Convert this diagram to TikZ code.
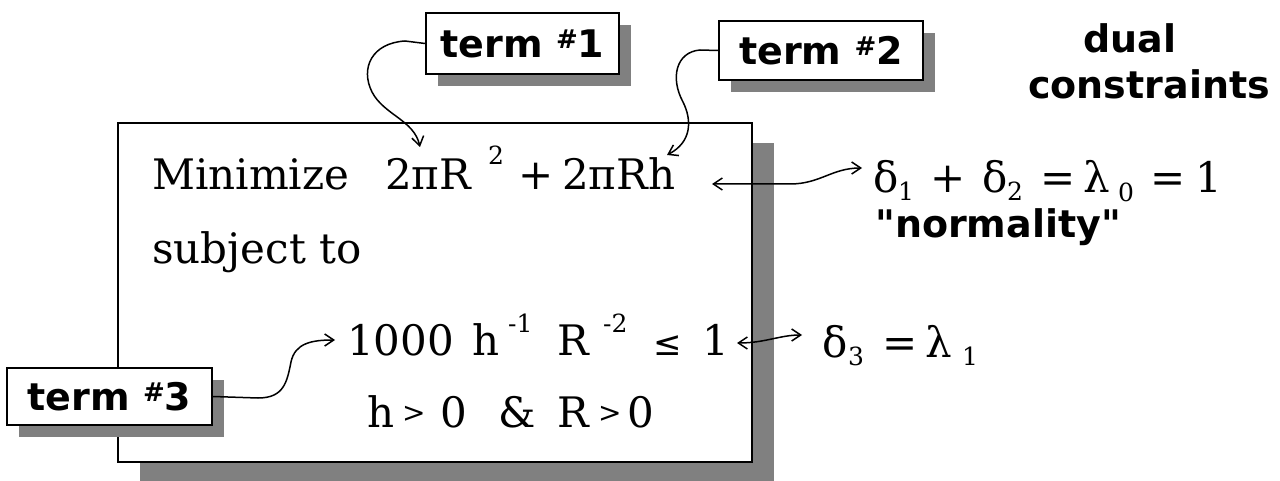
\documentclass[tikz,border=0pt]{standalone}
\usepackage{fontspec}
\usetikzlibrary{arrows.meta,shadows}
\newfontfamily\serifface{DejaVu Serif}
\newfontfamily\labelface{DejaVu Sans}
\newfontfamily\symface{DejaVu Sans}
% small raised number sign used in the term labels
\newcommand\smallhash{{\fontsize{26}{26}\selectfont\raisebox{9pt}{\#}}}

\tikzset{
  boxframe/.style={draw, line width=1.8pt, fill=white, inner sep=0pt},
  shade12/.style={drop shadow={shadow xshift=12pt, shadow yshift=-12pt, fill=black!50, opacity=1}},
  termbox/.style={boxframe, shade12, font=\labelface\bfseries\fontsize{38}{44}\selectfont},
  ser/.style={inner sep=0pt, anchor=base west, font=\serifface\fontsize{42}{48}\selectfont},
  subsup/.style={inner sep=0pt, anchor=base west, font=\serifface\fontsize{25}{30}\selectfont},
  relsym/.style={inner sep=0pt, anchor=base west, font=\symface\fontsize{34}{40}\selectfont},
  smallrel/.style={inner sep=0pt, anchor=base west, font=\serifface\fontsize{28}{32}\selectfont},
  lab/.style={inner sep=0pt, anchor=base west, font=\labelface\bfseries\fontsize{38}{44}\selectfont},
  link/.style={line width=1.5pt, -{Straight Barb[length=9pt,width=12pt]}},
  twoway/.style={line width=1.5pt, {Straight Barb[length=9pt,width=12pt]}-{Straight Barb[length=9pt,width=12pt]}},
}

\begin{document}
\begin{tikzpicture}[x=1pt, y=-1pt]
\useasboundingbox (0,0) rectangle (1280,481);

% problem frame
\node[boxframe, minimum width=634pt, minimum height=339pt,
      drop shadow={shadow xshift=22pt, shadow yshift=-20pt, fill=black!50, opacity=1}]
      (main) at (435,292.5) {};

% term labels
\node[termbox, minimum width=193pt, minimum height=61pt] (t1) at (522.5,43.5) {term \smallhash1};
\node[termbox, minimum width=204pt, minimum height=59pt] (t2) at (821,50.5) {term \smallhash2};
\node[termbox, minimum width=205pt, minimum height=57pt] (t3) at (109.5,396.5) {term \smallhash3};

% objective
\node[ser] (minimize) at (152,190) {Minimize};
\node[ser] (objA) at (385,190) {2πR};
\node[subsup] (objsq) at (488,165) {2};
\node[ser] (plusA) at (518,190) {+};
\node[ser] (objB) at (562,190) {2πRh};
\node[ser] (subj) at (152,263) {subject to};

% constraint
\node[ser] (coef) at (347,355) {1000};
\node[ser] (hvar) at (472,355) {h};
\node[subsup] (hexp) at (508,332) {-1};
\node[ser] (rvar) at (557,355) {R};
\node[subsup] (rexp) at (603,332) {-2};
\node[relsym] (leq) at (653,355) {≤};
\node[ser] (rhs) at (702,355) {1};

% positivity
\node[ser] (hpos) at (367,427) {h};
\node[smallrel] (gtA) at (402,422) {>};
\node[ser] (zeroA) at (440,427) {0};
\node[ser] (amp) at (498,427) {\&};
\node[ser] (rpos) at (557,427) {R};
\node[smallrel] (gtB) at (598,422) {>};
\node[ser] (zeroB) at (627,427) {0};

% dual constraints
\node[lab] (dual) at (1083,53) {dual};
\node[lab] (cons) at (1028,99) {constraints};

\node[ser] (dA) at (873,193) {δ};
\node[subsup] (dAi) at (898,201) {1};
\node[ser] (plusB) at (930,193) {+};
\node[ser] (dB) at (982,193) {δ};
\node[subsup] (dBi) at (1007,201) {2};
\node[ser] (eqA) at (1040,193) {=};
\node[ser] (lA) at (1083,193) {λ};
\node[subsup] (lAi) at (1118,202) {0};
\node[ser] (eqB) at (1150,193) {=};
\node[ser] (oneB) at (1195,193) {1};
\node[lab] (norm) at (875,238) {"normality"};

\node[ser] (dC) at (822,357) {δ};
\node[subsup] (dCi) at (848,365) {3};
\node[ser] (eqC) at (882,357) {=};
\node[ser] (lB) at (925,357) {λ};
\node[subsup] (lBi) at (962,365) {1};

% connector end points
\coordinate (p1) at (420,147);
\coordinate (p2) at (667,155);
\coordinate (p3) at (335,340);
\coordinate (q1) at (712,184);
\coordinate (q2) at (862,168);
\coordinate (q3) at (737,343);
\coordinate (q4) at (802,335);

% connectors
\draw[link] (t1.west) -- (405,41) .. controls (372,43) and (360,68) .. (372,92)
            .. controls (384,115) and (414,120) .. (p1);
\draw[link] (t2.west) -- (700,50) .. controls (676,52) and (670,78) .. (683,102)
            .. controls (692,120) and (692,142) .. (p2);
\draw[link] (t3.east) -- (258,398) .. controls (284,398) and (287,382) .. (291,362)
            .. controls (295,343) and (312,340) .. (p3);
\draw[twoway] (q1) -- (790,184) .. controls (820,184) and (832,168) .. (q2);
\draw[twoway] (q3) .. controls (765,343) and (780,335) .. (q4);
\end{tikzpicture}
\end{document}
